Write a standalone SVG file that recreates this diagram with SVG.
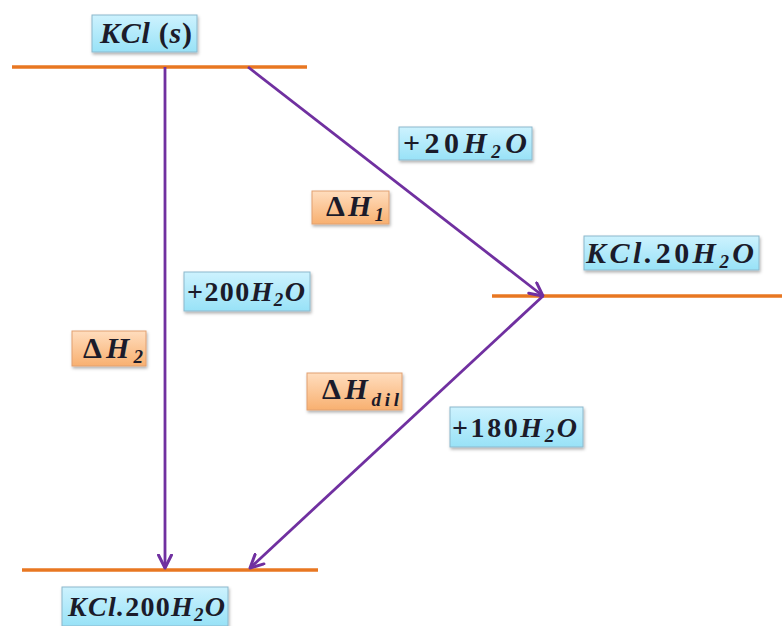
<svg xmlns="http://www.w3.org/2000/svg" width="782" height="626" viewBox="0 0 782 626">
<defs>
<linearGradient id="gb" x1="0" y1="0" x2="0" y2="1"><stop offset="0" stop-color="#CDF2FE"/><stop offset="1" stop-color="#98E2F7"/></linearGradient>
<linearGradient id="go" x1="0" y1="0" x2="0" y2="1"><stop offset="0" stop-color="#FFDDBE"/><stop offset="1" stop-color="#F8B070"/></linearGradient>
<filter id="sh" x="-10%" y="-10%" width="130%" height="140%"><feDropShadow dx="1" dy="2" stdDeviation="1.5" flood-color="#000" flood-opacity="0.3"/></filter>
<marker id="ah" viewBox="0 0 16 16" refX="14.5" refY="8" markerWidth="16" markerHeight="16" markerUnits="userSpaceOnUse" orient="auto"><path d="M1.5,1.5 L14.5,8 L1.5,14.5" fill="none" stroke="#7030A0" stroke-width="3" stroke-linecap="round" stroke-linejoin="round"/></marker>
</defs>
<style>
.lvl{stroke:#E87722;stroke-width:3.5}
.arr{stroke:#7030A0;stroke-width:2.8;fill:none;marker-end:url(#ah)}
.bb{fill:url(#gb);stroke:#8CB8CC;stroke-width:1;filter:url(#sh)}
.ob{fill:url(#go);stroke:#E2A070;stroke-width:1;filter:url(#sh)}
.t{font-family:"Liberation Serif","DejaVu Serif",serif;font-weight:bold;font-style:italic;font-size:28px;fill:#1B1B2A}
.l{font-size:30px}
.up{font-style:normal}
.sub{font-size:19px}
</style>
<rect width="782" height="626" fill="#fff"/>
<g id="levels">
<line class="lvl" x1="12" y1="67" x2="307" y2="67"/>
<line class="lvl" x1="492" y1="296" x2="782" y2="296"/>
<line class="lvl" x1="22" y1="570" x2="318" y2="570"/>
</g>
<g id="connectors">
<line class="arr" x1="165" y1="67" x2="165" y2="568"/>
<line class="arr" x1="248" y1="67" x2="543" y2="296"/>
<line class="arr" x1="543" y1="296" x2="250" y2="568"/>
</g>
<g id="kcl-s"><rect class="bb" x="92" y="15" width="105" height="37"/><text class="t l" x="100" y="43" textLength="92" lengthAdjust="spacing">KCl <tspan class="up">(</tspan>s<tspan class="up">)</tspan></text></g>
<g id="plus20"><rect class="bb" x="399" y="127" width="133" height="33"/><text class="t l" x="403" y="153" textLength="124" lengthAdjust="spacing"><tspan class="up">+20</tspan>H<tspan class="sub" dy="5">2</tspan><tspan dy="-5">O</tspan></text></g>
<g id="dh1"><rect class="ob" x="312" y="191" width="77" height="33"/><text class="t l" x="326" y="216" textLength="58" lengthAdjust="spacing"><tspan class="up">Δ</tspan>H<tspan class="sub" dy="5">1</tspan></text></g>
<g id="kcl20"><rect class="bb" x="584" y="236" width="175" height="34"/><text class="t l" x="586" y="263" textLength="168" lengthAdjust="spacing">KCl.<tspan class="up">20</tspan>H<tspan class="sub" dy="5">2</tspan><tspan dy="-5">O</tspan></text></g>
<g id="plus200"><rect class="bb" x="184" y="272" width="126" height="39"/><text class="t" x="187" y="301" textLength="118" lengthAdjust="spacing"><tspan class="up">+200</tspan>H<tspan class="sub" dy="5">2</tspan><tspan dy="-5">O</tspan></text></g>
<g id="dh2"><rect class="ob" x="72" y="331" width="74" height="35"/><text class="t l" x="83" y="358" textLength="60" lengthAdjust="spacing"><tspan class="up">Δ</tspan>H<tspan class="sub" dy="5">2</tspan></text></g>
<g id="dhdil"><rect class="ob" x="307" y="373" width="95" height="37"/><text class="t l" x="322" y="399" textLength="77" lengthAdjust="spacing"><tspan class="up">Δ</tspan>H<tspan class="sub" dy="7">dil</tspan></text></g>
<g id="plus180"><rect class="bb" x="450" y="407" width="133" height="40"/><text class="t" x="452" y="437" textLength="125" lengthAdjust="spacing"><tspan class="up">+180</tspan>H<tspan class="sub" dy="5">2</tspan><tspan dy="-5">O</tspan></text></g>
<g id="kcl200"><rect class="bb" x="62" y="587" width="166" height="39"/><text class="t" x="68" y="616" textLength="157" lengthAdjust="spacing">KCl.<tspan class="up">200</tspan>H<tspan class="sub" dy="5">2</tspan><tspan dy="-5">O</tspan></text></g>
</svg>
